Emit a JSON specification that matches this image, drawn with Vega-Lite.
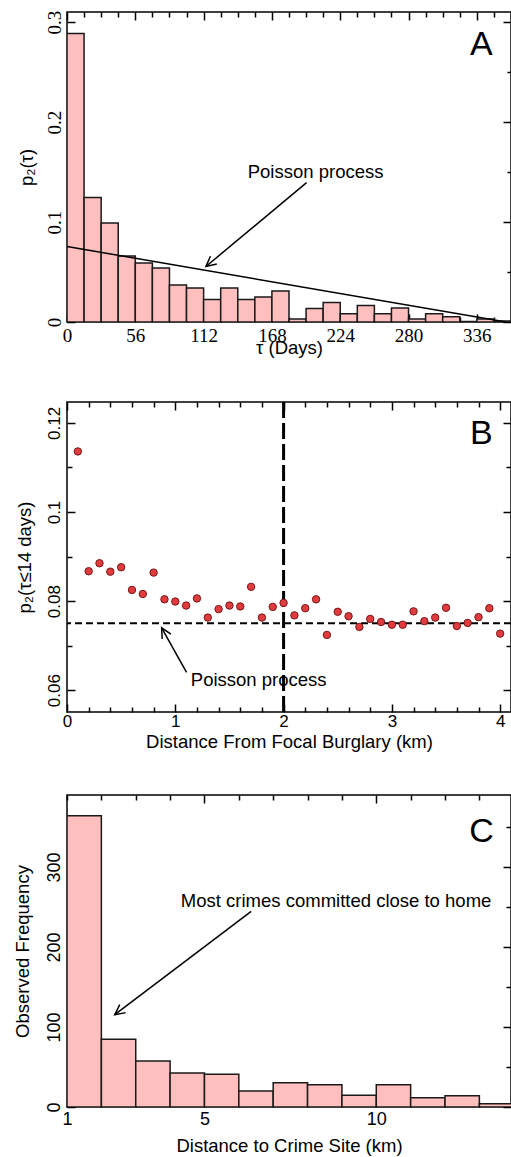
{
  "$schema": "https://vega.github.io/schema/vega-lite/v6.json",
  "background": "white",
  "padding": {"left": 12, "top": 9, "right": 0, "bottom": 0},
  "spacing": 41,
  "datasets": {
    "tau_bins": [
      {"t0": 0, "t1": 14, "p": 0.2885},
      {"t0": 14, "t1": 28, "p": 0.1245},
      {"t0": 28, "t1": 42, "p": 0.099},
      {"t0": 42, "t1": 56, "p": 0.066},
      {"t0": 56, "t1": 70, "p": 0.059},
      {"t0": 70, "t1": 84, "p": 0.054},
      {"t0": 84, "t1": 98, "p": 0.037},
      {"t0": 98, "t1": 112, "p": 0.034},
      {"t0": 112, "t1": 126, "p": 0.0226},
      {"t0": 126, "t1": 140, "p": 0.034},
      {"t0": 140, "t1": 154, "p": 0.0226},
      {"t0": 154, "t1": 168, "p": 0.025},
      {"t0": 168, "t1": 182, "p": 0.031},
      {"t0": 182, "t1": 196, "p": 0.003},
      {"t0": 196, "t1": 210, "p": 0.0136},
      {"t0": 210, "t1": 224, "p": 0.0196},
      {"t0": 224, "t1": 238, "p": 0.0083},
      {"t0": 238, "t1": 252, "p": 0.0166},
      {"t0": 252, "t1": 266, "p": 0.0083},
      {"t0": 266, "t1": 280, "p": 0.014},
      {"t0": 280, "t1": 294, "p": 0.003},
      {"t0": 294, "t1": 308, "p": 0.0083},
      {"t0": 308, "t1": 322, "p": 0.0053},
      {"t0": 322, "t1": 336, "p": 0.0005},
      {"t0": 336, "t1": 350, "p": 0.003},
      {"t0": 350, "t1": 364, "p": 0.001}
    ],
    "poisson": [
      {"t": 0, "p": 0.0755},
      {"t": 360, "p": 0}
    ],
    "distance": [
      {"d": 0.1, "p": 0.1136}, {"d": 0.2, "p": 0.0867}, {"d": 0.3, "p": 0.0885},
      {"d": 0.4, "p": 0.0866}, {"d": 0.5, "p": 0.0876}, {"d": 0.6, "p": 0.0825},
      {"d": 0.7, "p": 0.0816}, {"d": 0.8, "p": 0.0864}, {"d": 0.9, "p": 0.0804},
      {"d": 1.0, "p": 0.0799}, {"d": 1.1, "p": 0.079}, {"d": 1.2, "p": 0.0806},
      {"d": 1.3, "p": 0.0763}, {"d": 1.4, "p": 0.0782}, {"d": 1.5, "p": 0.079},
      {"d": 1.6, "p": 0.0788}, {"d": 1.7, "p": 0.0832}, {"d": 1.8, "p": 0.0763},
      {"d": 1.9, "p": 0.0787}, {"d": 2.0, "p": 0.0796}, {"d": 2.1, "p": 0.0768},
      {"d": 2.2, "p": 0.0784}, {"d": 2.3, "p": 0.0804}, {"d": 2.4, "p": 0.0724},
      {"d": 2.5, "p": 0.0776}, {"d": 2.6, "p": 0.0766}, {"d": 2.7, "p": 0.0742},
      {"d": 2.8, "p": 0.076}, {"d": 2.9, "p": 0.0753}, {"d": 3.0, "p": 0.0747},
      {"d": 3.1, "p": 0.0747}, {"d": 3.2, "p": 0.0777}, {"d": 3.3, "p": 0.0755},
      {"d": 3.4, "p": 0.0763}, {"d": 3.5, "p": 0.0785}, {"d": 3.6, "p": 0.0744},
      {"d": 3.7, "p": 0.0751}, {"d": 3.8, "p": 0.0764}, {"d": 3.9, "p": 0.0784},
      {"d": 4.0, "p": 0.0727}
    ],
    "crime_site": [
      {"k0": 1, "k1": 2, "n": 364},
      {"k0": 2, "k1": 3, "n": 84.6},
      {"k0": 3, "k1": 4, "n": 57.5},
      {"k0": 4, "k1": 5, "n": 42.5},
      {"k0": 5, "k1": 6, "n": 40.8},
      {"k0": 6, "k1": 7, "n": 20},
      {"k0": 7, "k1": 8, "n": 30.4},
      {"k0": 8, "k1": 9, "n": 27.9},
      {"k0": 9, "k1": 10, "n": 14.6},
      {"k0": 10, "k1": 11, "n": 27.9},
      {"k0": 11, "k1": 12, "n": 11.7},
      {"k0": 12, "k1": 13, "n": 14.2},
      {"k0": 13, "k1": 14, "n": 4.2}
    ],
    "one": [{}]
  },
  "vconcat": [
    {
      "width": 444,
      "height": 310,
      "resolve": {"axis": {"x": "independent", "y": "independent"}},
      "layer": [
        {
          "data": {"name": "tau_bins"},
          "mark": {"type": "bar", "fill": "#ffbfbf", "stroke": "#1a1a1a", "strokeWidth": 1.5, "clip": true},
          "encoding": {
            "x": {
              "field": "t0", "type": "quantitative",
              "scale": {"domain": [0, 364], "nice": false, "zero": false},
              "axis": {
                "orient": "bottom", "title": "τ (Days)",
                "values": [0, 56, 112, 168, 224, 280, 336],
                "format": "d", "ticks": false, "tickSize": 0,
                "labelFont": "Liberation Serif", "labelFontSize": 19, "labelPadding": 4,
                "titlePadding": -7
              }
            },
            "x2": {"field": "t1"},
            "y": {
              "field": "p", "type": "quantitative",
              "scale": {"domain": [0, 0.31], "nice": false, "zero": false},
              "axis": {
                "orient": "left", "title": "p₂(τ)",
                "values": [0, 0.1, 0.2, 0.3],
                "format": ".1~f", "ticks": false, "tickSize": 0,
                "labelFont": "Liberation Serif", "labelFontSize": 19,
                "labelAngle": 270, "labelAlign": "center", "labelBaseline": "middle",
                "labelPadding": 13, "titlePadding": 9
              }
            },
            "y2": {"datum": 0}
          }
        },
        {
          "data": {"name": "poisson"},
          "mark": {"type": "line", "color": "black", "strokeWidth": 1.5},
          "encoding": {
            "x": {
              "field": "t", "type": "quantitative",
              "axis": {
                "orient": "top", "title": null, "labels": false,
                "values": [0, 14, 28, 42, 56, 70, 84, 98, 112, 126, 140, 154, 168, 182, 196, 210, 224, 238, 252, 266, 280, 294, 308, 322, 336, 350],
                "tickSize": {"condition": {"test": "datum.value % 56 == 0", "value": -8}, "value": -5}
              }
            },
            "y": {
              "field": "p", "type": "quantitative",
              "axis": {
                "orient": "right", "title": null, "labels": false,
                "values": [0, 0.05, 0.1, 0.15, 0.2, 0.25, 0.3],
                "tickSize": {"condition": {"test": "round(datum.value * 20) % 2 == 0", "value": -8}, "value": -4}
              }
            }
          }
        },
        {
          "data": {"name": "one"},
          "mark": {"type": "text", "text": "Poisson process", "fontSize": 18.5, "align": "center", "baseline": "middle"},
          "encoding": {
            "x": {
              "datum": 203.8, "type": "quantitative",
              "axis": {
                "orient": "bottom", "title": null, "labels": false,
                "values": [0, 14, 28, 42, 56, 70, 84, 98, 112, 126, 140, 154, 168, 182, 196, 210, 224, 238, 252, 266, 280, 294, 308, 322, 336, 350],
                "tickSize": {"condition": {"test": "datum.value % 56 == 0", "value": -8}, "value": -5}
              }
            },
            "y": {
              "datum": 0.1503, "type": "quantitative",
              "axis": {
                "orient": "left", "title": null, "labels": false,
                "values": [0, 0.05, 0.1, 0.15, 0.2, 0.25, 0.3],
                "tickSize": {"condition": {"test": "round(datum.value * 20) % 2 == 0", "value": -8}, "value": -4}
              }
            }
          }
        },
        {
          "data": {"name": "one"},
          "mark": {"type": "rule", "color": "black", "strokeWidth": 1.5},
          "encoding": {
            "x": {"datum": 196.4, "type": "quantitative", "axis": null},
            "y": {"datum": 0.1393, "type": "quantitative", "axis": null},
            "x2": {"datum": 113.9},
            "y2": {"datum": 0.0555}
          }
        },
        {
          "data": {"name": "one"},
          "mark": {"type": "point", "shape": "M -0.5 1 L 0 0 L 0.5 1", "filled": false, "size": 400, "angle": 230.3, "stroke": "black", "strokeWidth": 1.5, "opacity": 1},
          "encoding": {
            "x": {"datum": 113.9, "type": "quantitative", "axis": null},
            "y": {"datum": 0.0555, "type": "quantitative", "axis": null}
          }
        },
        {
          "data": {"name": "one"},
          "mark": {"type": "text", "text": "A", "fontSize": 34, "align": "center", "baseline": "middle"},
          "encoding": {
            "x": {"datum": 339.7, "type": "quantitative", "axis": null},
            "y": {"datum": 0.2767, "type": "quantitative", "axis": null}
          }
        }
      ]
    },
    {
      "width": 444,
      "height": 310,
      "resolve": {"axis": {"x": "independent", "y": "independent"}},
      "layer": [
        {
          "data": {"name": "one"},
          "mark": {"type": "rule", "color": "black", "strokeWidth": 3, "strokeDash": [16, 5]},
          "encoding": {
            "x": {
              "datum": 2, "type": "quantitative",
              "scale": {"domain": [0, 4.1], "nice": false, "zero": false},
              "axis": {
                "orient": "top", "title": null, "labels": false,
                "values": [0, 0.2, 0.4, 0.6, 0.8, 1, 1.2, 1.4, 1.6, 1.8, 2, 2.2, 2.4, 2.6, 2.8, 3, 3.2, 3.4, 3.6, 3.8, 4],
                "tickSize": {"condition": {"test": "round(datum.value * 5) % 5 == 0", "value": -8}, "value": -5}
              }
            }
          }
        },
        {
          "data": {"name": "one"},
          "mark": {"type": "rule", "color": "black", "strokeWidth": 2, "strokeDash": [7, 4]},
          "encoding": {
            "y": {
              "datum": 0.075, "type": "quantitative",
              "scale": {"domain": [0.0551, 0.1247], "nice": false, "zero": false},
              "axis": {
                "orient": "right", "title": null, "labels": false,
                "values": [0.06, 0.07, 0.08, 0.09, 0.1, 0.11, 0.12],
                "tickSize": {"condition": {"test": "round(datum.value * 100) % 2 == 0", "value": -8}, "value": -5}
              }
            }
          }
        },
        {
          "data": {"name": "distance"},
          "mark": {"type": "point", "filled": true, "fill": "#e03c3f", "stroke": "#7a1515", "strokeWidth": 1, "size": 55, "opacity": 1},
          "encoding": {
            "x": {
              "field": "d", "type": "quantitative",
              "scale": {"domain": [0, 4.1], "nice": false, "zero": false},
              "axis": {
                "orient": "bottom", "title": "Distance From Focal Burglary (km)",
                "values": [0, 1, 2, 3, 4],
                "format": "d", "ticks": false, "tickSize": 0,
                "labelFontSize": 17, "labelPadding": 1, "titlePadding": 3
              }
            },
            "y": {
              "field": "p", "type": "quantitative",
              "scale": {"domain": [0.0551, 0.1247], "nice": false, "zero": false},
              "axis": {
                "orient": "left", "title": "p₂(τ≤14 days)",
                "values": [0.06, 0.08, 0.1, 0.12],
                "format": ".2~f", "ticks": false, "tickSize": 0,
                "labelFontSize": 17,
                "labelAngle": 270, "labelAlign": "center", "labelBaseline": "middle",
                "labelPadding": 13, "titlePadding": 11
              }
            }
          }
        },
        {
          "data": {"name": "one"},
          "mark": {"type": "text", "text": "Poisson process", "fontSize": 18.5, "align": "center", "baseline": "middle"},
          "encoding": {
            "x": {
              "datum": 1.77, "type": "quantitative",
              "axis": {
                "orient": "bottom", "title": null, "labels": false,
                "values": [0, 0.2, 0.4, 0.6, 0.8, 1, 1.2, 1.4, 1.6, 1.8, 2, 2.2, 2.4, 2.6, 2.8, 3, 3.2, 3.4, 3.6, 3.8, 4],
                "tickSize": {"condition": {"test": "round(datum.value * 5) % 5 == 0", "value": -8}, "value": -5}
              }
            },
            "y": {
              "datum": 0.0622, "type": "quantitative",
              "axis": {
                "orient": "left", "title": null, "labels": false,
                "values": [0.06, 0.07, 0.08, 0.09, 0.1, 0.11, 0.12],
                "tickSize": {"condition": {"test": "round(datum.value * 100) % 2 == 0", "value": -8}, "value": -5}
              }
            }
          }
        },
        {
          "data": {"name": "one"},
          "mark": {"type": "rule", "color": "black", "strokeWidth": 1.5},
          "encoding": {
            "x": {"datum": 1.104, "type": "quantitative", "axis": null},
            "y": {"datum": 0.064, "type": "quantitative", "axis": null},
            "x2": {"datum": 0.874},
            "y2": {"datum": 0.074}
          }
        },
        {
          "data": {"name": "one"},
          "mark": {"type": "point", "shape": "M -0.5 1 L 0 0 L 0.5 1", "filled": false, "size": 400, "angle": 330.6, "stroke": "black", "strokeWidth": 1.5, "opacity": 1},
          "encoding": {
            "x": {"datum": 0.874, "type": "quantitative", "axis": null},
            "y": {"datum": 0.074, "type": "quantitative", "axis": null}
          }
        },
        {
          "data": {"name": "one"},
          "mark": {"type": "text", "text": "B", "fontSize": 34, "align": "center", "baseline": "middle"},
          "encoding": {
            "x": {"datum": 3.826, "type": "quantitative", "axis": null},
            "y": {"datum": 0.1175, "type": "quantitative", "axis": null}
          }
        }
      ]
    },
    {
      "width": 444,
      "height": 312,
      "resolve": {"axis": {"x": "independent", "y": "independent"}},
      "layer": [
        {
          "data": {"name": "crime_site"},
          "mark": {"type": "bar", "fill": "#ffbfbf", "stroke": "#1a1a1a", "strokeWidth": 1.5, "clip": true},
          "encoding": {
            "x": {
              "field": "k0", "type": "quantitative",
              "scale": {"domain": [1, 13.92], "nice": false, "zero": false},
              "axis": {
                "orient": "bottom", "title": "Distance to Crime Site (km)",
                "values": [1, 5, 10],
                "format": "d", "ticks": false, "tickSize": 0,
                "labelFontSize": 18, "labelPadding": 3, "titlePadding": 8
              }
            },
            "x2": {"field": "k1"},
            "y": {
              "field": "n", "type": "quantitative",
              "scale": {"domain": [0, 390], "nice": false, "zero": false},
              "axis": {
                "orient": "left", "title": "Observed Frequency",
                "values": [0, 100, 200, 300],
                "format": "d", "ticks": false, "tickSize": 0,
                "labelFontSize": 18,
                "labelAngle": 270, "labelAlign": "center", "labelBaseline": "middle",
                "labelPadding": 13, "titlePadding": 13
              }
            },
            "y2": {"datum": 0}
          }
        },
        {
          "data": {"name": "one"},
          "mark": {"type": "text", "text": "Most crimes committed close to home", "fontSize": 18.5, "align": "center", "baseline": "middle"},
          "encoding": {
            "x": {
              "datum": 8.83, "type": "quantitative",
              "axis": {
                "orient": "top", "title": null, "labels": false,
                "values": [1, 2, 3, 4, 5, 6, 7, 8, 9, 10, 11, 12, 13],
                "tickSize": {"condition": {"test": "datum.value % 5 == 0", "value": -8}, "value": -5}
              }
            },
            "y": {
              "datum": 257, "type": "quantitative",
              "axis": {
                "orient": "right", "title": null, "labels": false,
                "values": [0, 50, 100, 150, 200, 250, 300, 350],
                "tickSize": {"condition": {"test": "datum.value % 100 == 0", "value": -8}, "value": -5}
              }
            }
          }
        },
        {
          "data": {"name": "one"},
          "mark": {"type": "rule", "color": "black", "strokeWidth": 1.5},
          "encoding": {
            "x": {"datum": 6.36, "type": "quantitative", "axis": null},
            "y": {"datum": 244.5, "type": "quantitative", "axis": null},
            "x2": {"datum": 2.39},
            "y2": {"datum": 115.4}
          }
        },
        {
          "data": {"name": "one"},
          "mark": {"type": "point", "shape": "M -0.5 1 L 0 0 L 0.5 1", "filled": false, "size": 400, "angle": 232.9, "stroke": "black", "strokeWidth": 1.5, "opacity": 1},
          "encoding": {
            "x": {"datum": 2.39, "type": "quantitative", "axis": null},
            "y": {"datum": 115.4, "type": "quantitative", "axis": null}
          }
        },
        {
          "data": {"name": "one"},
          "mark": {"type": "text", "text": "C", "fontSize": 34, "align": "center", "baseline": "middle"},
          "encoding": {
            "x": {
              "datum": 13.06, "type": "quantitative",
              "axis": {
                "orient": "bottom", "title": null, "labels": false,
                "values": [1, 2, 3, 4, 5, 6, 7, 8, 9, 10, 11, 12, 13],
                "tickSize": {"condition": {"test": "datum.value % 5 == 0", "value": -8}, "value": -5}
              }
            },
            "y": {
              "datum": 343.75, "type": "quantitative",
              "axis": {
                "orient": "left", "title": null, "labels": false,
                "values": [0, 50, 100, 150, 200, 250, 300, 350],
                "tickSize": {"condition": {"test": "datum.value % 100 == 0", "value": -8}, "value": -5}
              }
            }
          }
        }
      ]
    }
  ],
  "config": {
    "font": "Liberation Sans",
    "view": {"stroke": "black", "strokeWidth": 1.5},
    "axis": {
      "domain": false,
      "grid": false,
      "tickColor": "black",
      "tickWidth": 1.5,
      "labelColor": "black",
      "labelFont": "Liberation Sans",
      "labelFlush": false,
      "labelOverlap": false,
      "titleColor": "black",
      "titleFont": "Liberation Sans",
      "titleFontSize": 18.5,
      "titleFontWeight": "normal"
    }
  }
}
